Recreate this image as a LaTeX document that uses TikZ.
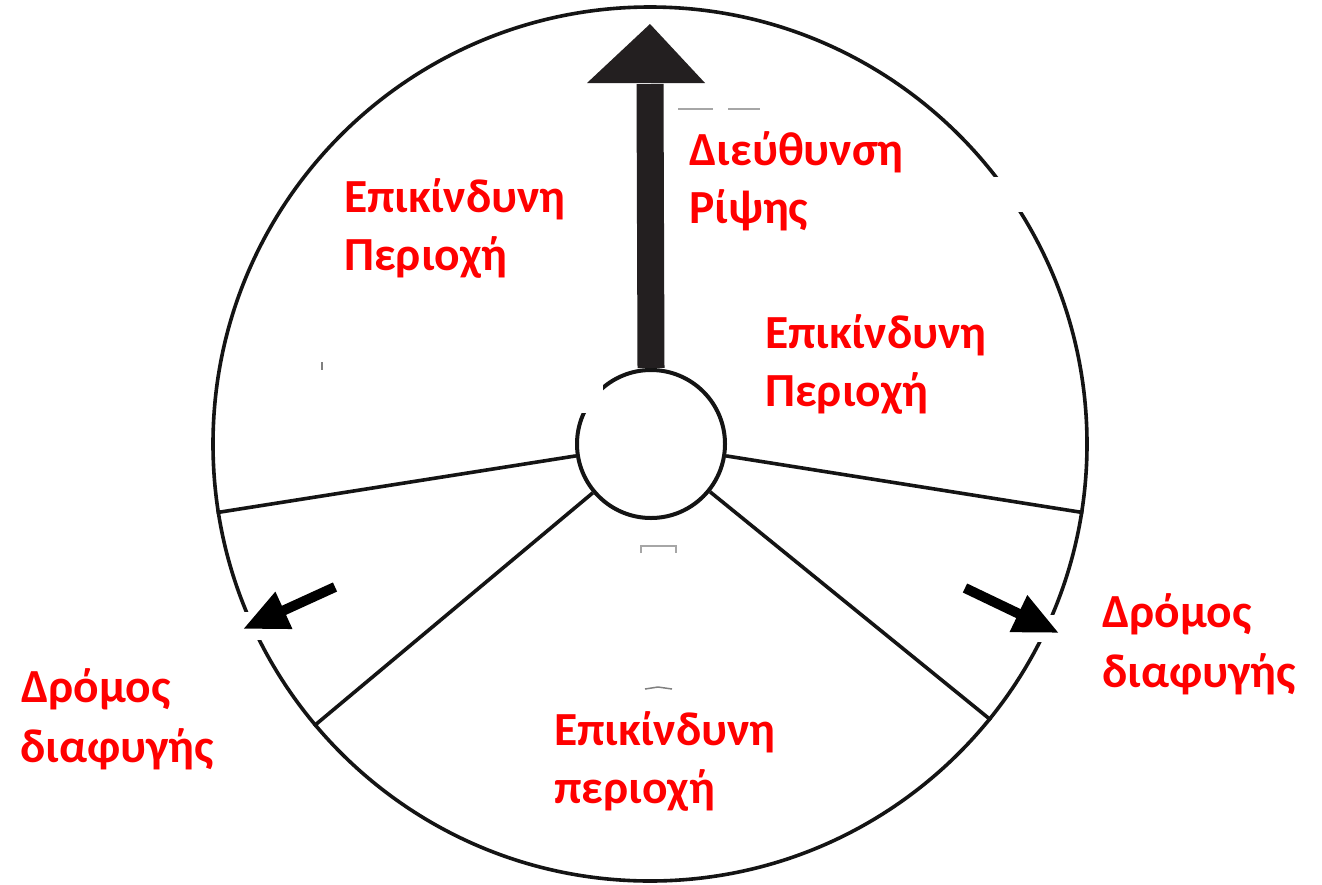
\documentclass[tikz,border=0pt]{standalone}
\usepackage{fontspec}
\setmainfont{Carlito}
\usetikzlibrary{arrows.meta}
\definecolor{lblred}{RGB}{255,0,0}
\definecolor{ink}{RGB}{20,20,20}
\definecolor{arrowdark}{RGB}{35,31,32}
\begin{document}
\begin{tikzpicture}[x=1pt,y=-1pt,
  lbl/.style={text=lblred, font=\fontsize{47.5}{57}\selectfont\bfseries, anchor=base west, inner sep=0pt},
  ring/.style={circle, draw=ink, inner sep=0pt},
  spoke/.style={draw=ink, line width=3.6pt},
  gap/.style={fill=white},
  smudge/.style={draw=gray!70, line width=1.5pt},
  escape/.style={draw=black, line width=10pt, -{Triangle[width=38pt,length=45pt]}}]
\useasboundingbox[fill=white] (0,0) rectangle (1322,884);

% circles
\node[ring, line width=3.6pt, minimum size=874pt] (big) at (650,444) {};
\node[ring, line width=4pt, minimum size=148pt] (hub) at (651,444) {};
\fill[gap] (570,378) rectangle (603,413);

% spokes
\foreach \a in {189.7,-9.3,220,-39.5} \draw[spoke] (hub.\a) -- (big.\a);

% gaps in outer circle
\fill[gap] (236,612) rectangle (266,640);
\fill[gap] (1034,615) rectangle (1064,642);
\fill[gap] (985,177) rectangle (1035,212);

% throw direction arrow
\coordinate (tip) at (650,24);
\coordinate (headL) at (587,83);
\coordinate (headR) at (705,83);
\coordinate (neck) at (650,84);
\draw[line width=27pt, arrowdark] (hub.north) -- (neck);
\fill[arrowdark] (tip) -- (headL) -- (headR) -- cycle;

% escape arrows
\coordinate (lstart) at (335,587);
\coordinate (ltip) at (243,629);
\coordinate (rstart) at (965,588);
\coordinate (rtip) at (1059,633);
\draw[escape] (lstart) -- (ltip);
\draw[escape] (rstart) -- (rtip);

% faint marks
\draw[smudge] (678,109) -- (713,109);
\draw[smudge] (728,109) -- (760,109);
\draw[smudge] (641,553) -- (641,546) -- (676,546) -- (676,553);
\draw[smudge, draw=gray] (322,362) -- (322,370);
\draw[smudge, draw=gray] (645,689) -- (658,687) -- (672,689);

% labels
\node[lbl] (ul1) at (344,212) {Επικίνδυνη};
\node[lbl] (ul2) at (344,270) {Περιοχή};
\node[lbl] (dir1) at (689,165) {Διεύθυνση};
\node[lbl] (dir2) at (689,223) {Ρίψης};
\node[lbl] (ur1) at (765,348) {Επικίνδυνη};
\node[lbl] (ur2) at (765,406) {Περιοχή};
\node[lbl] (bt1) at (554,745) {Επικίνδυνη};
\node[lbl] (bt2) at (554,803) {περιοχή};
\node[lbl] (le1) at (21,702) {Δρόμος};
\node[lbl] (le2) at (20,762) {διαφυγής};
\node[lbl] (re1) at (1102,627) {Δρόμος};
\node[lbl] (re2) at (1102,687) {διαφυγής};
\end{tikzpicture}
\end{document}
